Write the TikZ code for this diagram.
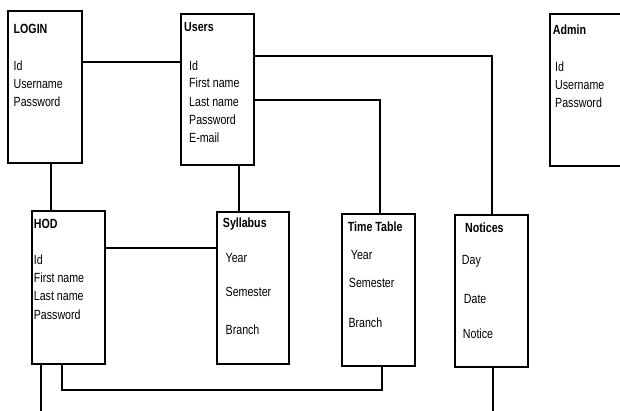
\documentclass[tikz,border=0pt]{standalone}
\usepackage{fontspec}
\setmainfont{Liberation Sans}[FakeStretch=0.8]
\usetikzlibrary{positioning,calc}

\begin{document}
\begin{tikzpicture}[x=1pt,y=-1pt,
        tbl/.style={draw,line width=2pt,inner sep=0pt,outer sep=0pt,anchor=north west},
        hdr/.style={anchor=base west,inner sep=0pt,font=\fontsize{13.3}{15}\selectfont\bfseries},
        fld/.style={anchor=base west,inner sep=0pt,font=\fontsize{13.3}{15}\selectfont},
        link/.style={line width=2pt}
    ]
    \useasboundingbox (0,0) rectangle (620,410);

    % Tables
    \node[tbl,minimum width=73.5pt,minimum height=151.5pt] (login) at (8,11) {};
    \node[tbl,minimum width=73pt,minimum height=151.5pt] (users) at (181,13.5) {};
    \node[tbl,minimum width=80pt,minimum height=152.5pt] (admin) at (549.5,13.5) {};
    \node[tbl,minimum width=73pt,minimum height=152.5pt] (hod) at (32,211) {};
    \node[tbl,minimum width=72pt,minimum height=152pt] (syllabus) at (217,212) {};
    \node[tbl,minimum width=73pt,minimum height=152pt] (timetable) at (341.5,214) {};
    \node[tbl,minimum width=73pt,minimum height=152pt] (notices) at (455,214.5) {};

    % Headers
    \node[hdr] (loginH) at (13.5,33.3) {LOGIN};
    \node[hdr] (usersH) at (184,31.7) {Users};
    \node[hdr] (adminH) at (552.7,34.3) {Admin};
    \node[hdr] (hodH) at (33.7,228.3) {HOD};
    \node[hdr] (syllabusH) at (222.7,227.7) {Syllabus};
    \node[hdr] (timetableH) at (347.7,231.7) {Time Table};
    \node[hdr] (noticesH) at (465,232.7) {Notices};

    % Fields
    \foreach \t/\y [count=\i] in {Id/70,Username/88.3,Password/106}
        \node[fld] (login\i) at (13.5,\y) {\t};
    \foreach \t/\y [count=\i] in {Id/70,First name/87.7,Last name/106,Password/124,E-mail/142}
        \node[fld] (users\i) at (189,\y) {\t};
    \foreach \t/\y [count=\i] in {Id/71,Username/89.3,Password/107}
        \node[fld] (admin\i) at (555,\y) {\t};
    \foreach \t/\y [count=\i] in {Id/264.3,First name/282.7,Last name/300.7,Password/319}
        \node[fld] (hod\i) at (33.7,\y) {\t};
    \foreach \t/\y [count=\i] in {Year/262.3,Semester/296.7,Branch/334.7}
        \node[fld] (syllabus\i) at (225.5,\y) {\t};
    \node[fld] (timetable1) at (350.7,259.3) {Year};
    \node[fld] (timetable2) at (348.7,287.7) {Semester};
    \node[fld] (timetable3) at (348.3,327.3) {Branch};
    \node[fld] (notices1) at (461.7,264) {Day};
    \node[fld] (notices2) at (463.7,303.3) {Date};
    \node[fld] (notices3) at (462.7,338.3) {Notice};

    % Links
    \coordinate (hodEnd) at (41,412);
    \coordinate (noticesEnd) at (492.7,412);
    \draw[link] (login.east |- 0,61.7) -- (users.west |- 0,61.7);
    \draw[link] (users.east |- 0,56) -| (notices.north);
    \draw[link] (users.east |- 0,100) -| ([xshift=1.5]timetable.north);
    \draw[link] ([xshift=6]login.south) -- ([xshift=6]login.south |- hod.north);
    \draw[link] ([xshift=21.5]users.south) -- ([xshift=21.5]users.south |- syllabus.north);
    \draw[link] (hod.east |- 0,248.3) -- (syllabus.west |- 0,248.3);
    \draw[link] (hod.south -| hodEnd) -- (hodEnd);
    \draw[link] ([xshift=-6.5]hod.south) -- ++(0,26.8) -| ([xshift=3.7]timetable.south);
    \draw[link] (notices.south -| noticesEnd) -- (noticesEnd);
\end{tikzpicture}
\end{document}
